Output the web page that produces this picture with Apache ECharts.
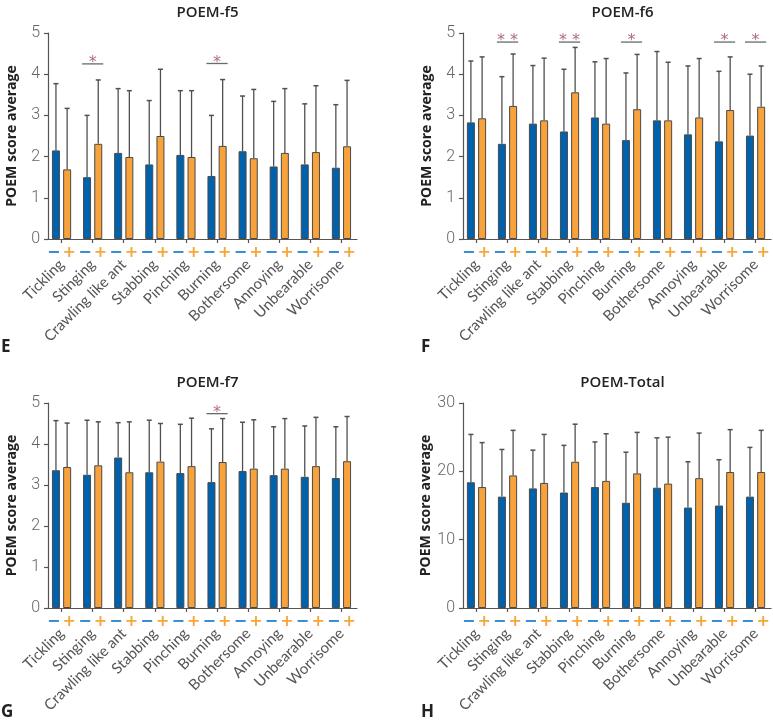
<!DOCTYPE html>
<html>
<head>
<meta charset="utf-8">
<script src="https://cdn.jsdelivr.net/npm/echarts@6/dist/echarts.min.js"></script>
<style>
html,body{margin:0;padding:0;background:#fff;}
#chart{width:773px;height:725px;}
</style>
</head>
<body>
<div id="chart"></div>
<script>
// ---------- data ----------
const categories = ['Tickling','Stinging','Crawling like ant','Stabbing','Pinching','Burning','Bothersome','Annoying','Unbearable','Worrisome'];
const signLabels = ['−','+'];

const f5Neg   = [2.15,1.50,2.09,1.81,2.04,1.53,2.13,1.76,1.81,1.73];
const f5NegSD = [1.62,1.50,1.56,1.55,1.56,1.47,1.34,1.58,1.47,1.53];
const f5Pos   = [1.69,2.31,1.99,2.50,1.99,2.26,1.96,2.09,2.11,2.25];
const f5PosSD = [1.48,1.55,1.61,1.62,1.61,1.61,1.67,1.56,1.61,1.60];
const f5Sig   = [['Stinging',4.25,1],['Burning',4.26,1]];

const f6Neg   = [2.83,2.31,2.80,2.61,2.95,2.40,2.88,2.54,2.37,2.51];
const f6NegSD = [1.49,1.63,1.41,1.51,1.35,1.63,1.67,1.66,1.70,1.49];
const f6Pos   = [2.93,3.23,2.88,3.56,2.80,3.15,2.88,2.95,3.13,3.21];
const f6PosSD = [1.49,1.26,1.51,1.09,1.58,1.33,1.41,1.43,1.29,0.99];
const f6Sig   = [['Stinging',4.78,2],['Stabbing',4.78,2],['Burning',4.78,1],['Unbearable',4.78,1],['Worrisome',4.78,1]];

const f7Neg   = [3.36,3.25,3.67,3.31,3.29,3.07,3.34,3.24,3.20,3.17];
const f7NegSD = [1.21,1.33,0.85,1.27,1.19,1.30,1.19,1.18,1.24,1.25];
const f7Pos   = [3.44,3.48,3.31,3.57,3.46,3.56,3.40,3.40,3.46,3.58];
const f7PosSD = [1.07,1.06,1.23,0.93,1.17,1.06,1.19,1.22,1.19,1.09];
const f7Sig   = [['Burning',4.74,1]];

const totNeg   = [18.4,16.3,17.5,16.9,17.7,15.4,17.6,14.7,15.0,16.3];
const totNegSD = [7.0,6.9,5.6,6.9,6.6,7.4,7.3,6.7,6.7,7.2];
const totPos   = [17.7,19.4,18.3,21.4,18.6,19.7,18.2,19.0,19.9,19.9];
const totPosSD = [6.5,6.6,7.1,5.5,6.9,6.0,6.8,6.6,6.2,6.1];
const totSig   = [];

// ---------- layout / style ----------
const BLUE = '#0062AC', ORANGE = '#F7A23A';
const SIGN_BLUE = '#2B86CF', SIGN_ORANGE = '#F6A73C';
const STAR = '#B06C86';
const BAR_W = 8, BAR_GAP = 0.4;
const BAR_OFF = (BAR_W + BAR_W*BAR_GAP)/2;

const panels = [
  {title:'POEM-f5', letter:'E', neg:f5Neg, negSD:f5NegSD, pos:f5Pos, posSD:f5PosSD, sig:f5Sig, max:5, interval:1,
   grid:{left:46, top:33, width:311, height:206}, letterXY:[1,339]},
  {title:'POEM-f6', letter:'F', neg:f6Neg, negSD:f6NegSD, pos:f6Pos, posSD:f6PosSD, sig:f6Sig, max:5, interval:1,
   grid:{left:461, top:33, width:311, height:206}, letterXY:[421,339]},
  {title:'POEM-f7', letter:'G', neg:f7Neg, negSD:f7NegSD, pos:f7Pos, posSD:f7PosSD, sig:f7Sig, max:5, interval:1,
   grid:{left:46, top:403, width:311, height:205}, letterXY:[1,704]},
  {title:'POEM-Total', letter:'H', neg:totNeg, negSD:totNegSD, pos:totPos, posSD:totPosSD, sig:totSig, max:30, interval:10,
   grid:{left:461, top:403, width:311, height:205}, letterXY:[421,704]}
];

const grids=[], xAxes=[], yAxes=[], series=[], titles=[], graphics=[];

function errRender(offset){
  return function(params, api){
    const i = api.value(0);
    const p0 = api.coord([i, api.value(1)]);
    const p1 = api.coord([i, api.value(2)]);
    const x = p0[0] + offset;
    return {type:'group', children:[
      {type:'line', shape:{x1:x, y1:p0[1], x2:x, y2:p1[1]}, style:{stroke:'#505050', lineWidth:1.3}},
      {type:'line', shape:{x1:x-2.5, y1:p1[1], x2:x+2.5, y2:p1[1]}, style:{stroke:'#505050', lineWidth:1.5}}
    ]};
  };
}

function sigRender(params, api){
  const i = api.value(0);
  const p = api.coord([i, api.value(1)]);
  const n = api.value(2);
  const half = BAR_OFF + BAR_W/2 + 1;
  const children = [
    {type:'line', shape:{x1:p[0]-half, y1:p[1], x2:p[0]+half, y2:p[1]}, style:{stroke:'#6a6a6a', lineWidth:1.3}}
  ];
  const xs = n === 2 ? [p[0]-6.5, p[0]+6.5] : [p[0]];
  xs.forEach(function(x){
    children.push({type:'text', x:x, y:p[1]-1, style:{text:'*', fill:STAR, fontSize:16, fontFamily:'DejaVu Sans', align:'center', verticalAlign:'middle'}});
  });
  return {type:'group', children:children};
}

panels.forEach(function(pn, k){
  grids.push(Object.assign({containLabel:false}, pn.grid));
  const xMain = xAxes.length;
  xAxes.push({
    type:'category', gridIndex:k, data:categories, position:'bottom',
    axisLine:{show:true, lineStyle:{color:'#555', width:1.2}},
    axisTick:{show:true, alignWithLabel:true, length:4, lineStyle:{color:'#555', width:1.2}},
    axisLabel:{interval:0, rotate:45, margin:23, fontSize:15, color:'#555', fontFamily:'Lato'}
  });
  xAxes.push({
    type:'category', gridIndex:k, position:'bottom', offset:0,
    data: categories.flatMap(function(){ return signLabels; }),
    axisLine:{show:false}, axisTick:{show:false},
    axisLabel:{interval:0, margin:6, formatter:function(v){ return v === '+' ? '{p|+}' : '{m|−}'; },
      rich:{m:{color:SIGN_BLUE, fontSize:16, fontWeight:'bold', fontFamily:'DejaVu Sans'},
            p:{color:SIGN_ORANGE, fontSize:16, fontWeight:'bold', fontFamily:'DejaVu Sans'}}}
  });
  yAxes.push({
    type:'value', gridIndex:k, min:0, max:pn.max, interval:pn.interval, offset:-2,
    axisLine:{show:true, lineStyle:{color:'#555', width:1.2}},
    axisTick:{show:true, length:4, lineStyle:{color:'#555', width:1.2}},
    splitLine:{show:false},
    axisLabel:{fontSize:16, color:'#666', fontFamily:'Roboto', fontWeight:300, margin:8},
    name:'POEM score average', nameLocation:'middle', nameGap:29,
    nameTextStyle:{fontSize:14, fontWeight:'bold', color:'#222', fontFamily:'Open Sans'}
  });
  series.push({type:'bar', xAxisIndex:xMain, yAxisIndex:k, data:pn.neg, barWidth:BAR_W, barGap:(BAR_GAP*100)+'%',
    itemStyle:{color:BLUE, borderColor:'#4a4a4a', borderWidth:1}, z:2});
  series.push({type:'bar', xAxisIndex:xMain, yAxisIndex:k, data:pn.pos, barWidth:BAR_W, barGap:(BAR_GAP*100)+'%',
    itemStyle:{color:ORANGE, borderColor:'#4a4a4a', borderWidth:1}, z:2});
  series.push({type:'custom', xAxisIndex:xMain, yAxisIndex:k, renderItem:errRender(-BAR_OFF), z:3,
    encode:{x:0, y:[1,2]}, data:pn.neg.map(function(v,i){ return [i, v, v + pn.negSD[i]]; })});
  series.push({type:'custom', xAxisIndex:xMain, yAxisIndex:k, renderItem:errRender(BAR_OFF), z:3,
    encode:{x:0, y:[1,2]}, data:pn.pos.map(function(v,i){ return [i, v, v + pn.posSD[i]]; })});
  if (pn.sig.length){
    series.push({type:'custom', xAxisIndex:xMain, yAxisIndex:k, renderItem:sigRender, z:4, clip:false,
      encode:{x:0, y:1}, data:pn.sig.map(function(s){ return [categories.indexOf(s[0]), s[1], s[2]]; })});
  }
  titles.push({text:pn.title, left:pn.grid.left + pn.grid.width/2 + 1, top:pn.grid.top - 33, textAlign:'center',
    textStyle:{fontSize:15, fontWeight:600, color:'#222', fontFamily:'Open Sans'}});
  graphics.push({type:'text', left:pn.letterXY[0], top:pn.letterXY[1],
    style:{text:pn.letter, fontSize:17, fontWeight:'bold', fill:'#222', fontFamily:'Open Sans'}});
});

const chart = echarts.init(document.getElementById('chart'), null, {renderer:'canvas'});
chart.setOption({
  animation:false,
  backgroundColor:'#fff',
  title:titles,
  grid:grids,
  xAxis:xAxes,
  yAxis:yAxes,
  series:series,
  graphic:graphics
});
</script>
</body>
</html>
